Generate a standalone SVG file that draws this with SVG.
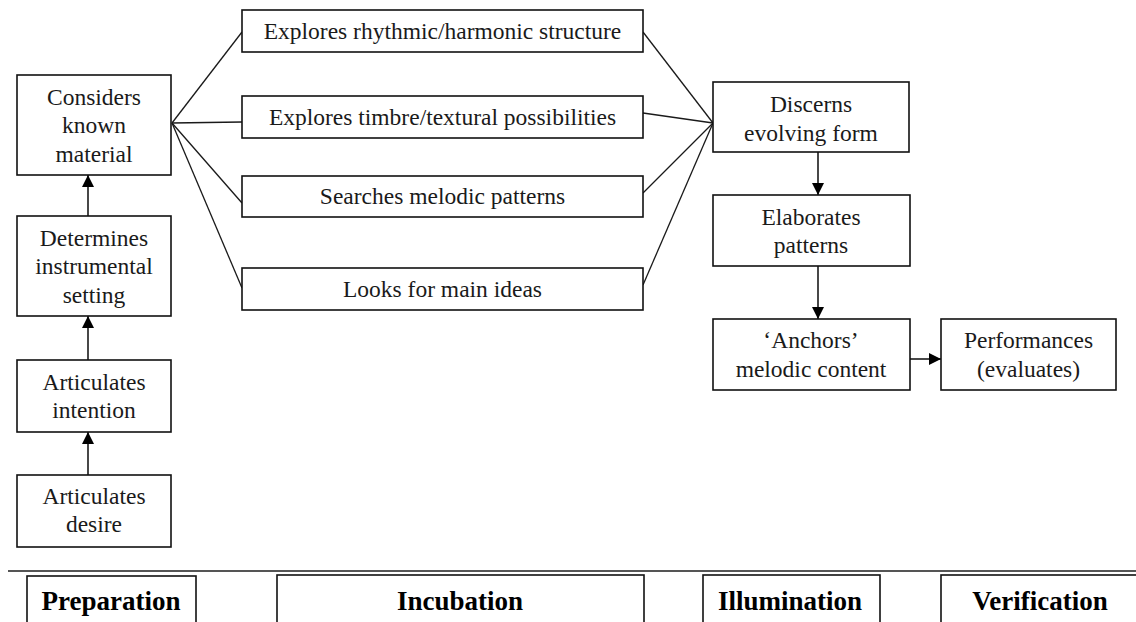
<svg xmlns="http://www.w3.org/2000/svg" width="1136" height="622" viewBox="0 0 1136 622">
  <style>
    .box { fill: #fff; stroke: #111; stroke-width: 1.6; }
    .lbl { font-family: "Liberation Serif", "Times New Roman", serif; font-size: 23.5px; fill: #1a1a1a; text-anchor: middle; }
    .phase { font-family: "Liberation Serif", "Times New Roman", serif; font-size: 27px; font-weight: bold; fill: #000; text-anchor: middle; }
    .link { stroke: #1a1a1a; stroke-width: 1.3; fill: none; }
    .arrow { stroke: #1a1a1a; stroke-width: 1.6; fill: none; marker-end: url(#head); }
  </style>
  <defs>
    <marker id="head" viewBox="0 0 12 12" refX="12" refY="6" markerWidth="12" markerHeight="12" markerUnits="userSpaceOnUse" orient="auto">
      <path d="M0,0 L12,6 L0,12 Z" fill="#000"/>
    </marker>
  </defs>
  <rect width="1136" height="622" fill="#fff"/>

  <!-- connectors -->
  <g id="connectors">
    <!-- fan-out from known material to the four exploration boxes -->
    <line class="link" x1="172" y1="123" x2="242" y2="32"/>
    <line class="link" x1="172" y1="123" x2="242" y2="122"/>
    <line class="link" x1="172" y1="123" x2="242" y2="203"/>
    <line class="link" x1="172" y1="123" x2="242" y2="288"/>
    <!-- fan-in to evolving form -->
    <line class="link" x1="643" y1="32" x2="713" y2="123"/>
    <line class="link" x1="643" y1="113" x2="713" y2="123"/>
    <line class="link" x1="643" y1="193" x2="713" y2="123"/>
    <line class="link" x1="643" y1="285" x2="713" y2="123"/>
    <!-- upward chain in the preparation column -->
    <line class="arrow" x1="88" y1="216" x2="88" y2="175"/>
    <line class="arrow" x1="88" y1="360" x2="88" y2="316"/>
    <line class="arrow" x1="88" y1="475" x2="88" y2="432"/>
    <!-- downward chain in the illumination column -->
    <line class="arrow" x1="818" y1="152" x2="818" y2="195"/>
    <line class="arrow" x1="818" y1="266" x2="818" y2="319"/>
    <line class="arrow" x1="910" y1="359" x2="941" y2="359"/>
  </g>

  <!-- preparation column -->
  <g id="considers">
    <rect class="box" x="17" y="75" width="154" height="100"/>
    <text class="lbl" x="94" y="105">Considers</text>
    <text class="lbl" x="94" y="133">known</text>
    <text class="lbl" x="94" y="162">material</text>
  </g>
  <g id="determines">
    <rect class="box" x="17" y="216" width="154" height="100"/>
    <text class="lbl" x="94" y="246">Determines</text>
    <text class="lbl" x="94" y="274">instrumental</text>
    <text class="lbl" x="94" y="303">setting</text>
  </g>
  <g id="intention">
    <rect class="box" x="17" y="360" width="154" height="72"/>
    <text class="lbl" x="94" y="390">Articulates</text>
    <text class="lbl" x="94" y="418">intention</text>
  </g>
  <g id="desire">
    <rect class="box" x="17" y="475" width="154" height="72"/>
    <text class="lbl" x="94" y="504">Articulates</text>
    <text class="lbl" x="94" y="532">desire</text>
  </g>

  <!-- incubation column -->
  <g id="rhythmic">
    <rect class="box" x="242" y="10" width="401" height="42"/>
    <text class="lbl" x="442.5" y="39">Explores rhythmic/harmonic structure</text>
  </g>
  <g id="timbre">
    <rect class="box" x="242" y="96" width="401" height="42"/>
    <text class="lbl" x="442.5" y="125">Explores timbre/textural possibilities</text>
  </g>
  <g id="melodic">
    <rect class="box" x="242" y="176" width="401" height="41"/>
    <text class="lbl" x="442.5" y="204">Searches melodic patterns</text>
  </g>
  <g id="ideas">
    <rect class="box" x="242" y="268" width="401" height="42"/>
    <text class="lbl" x="442.5" y="297">Looks for main ideas</text>
  </g>

  <!-- illumination / verification -->
  <g id="discerns">
    <rect class="box" x="713" y="82" width="196" height="70"/>
    <text class="lbl" x="811" y="112">Discerns</text>
    <text class="lbl" x="811" y="141">evolving form</text>
  </g>
  <g id="elaborates">
    <rect class="box" x="713" y="195" width="197" height="71"/>
    <text class="lbl" x="811" y="225">Elaborates</text>
    <text class="lbl" x="811" y="253">patterns</text>
  </g>
  <g id="anchors">
    <rect class="box" x="713" y="319" width="197" height="71"/>
    <text class="lbl" x="811" y="348">‘Anchors’</text>
    <text class="lbl" x="811" y="377">melodic content</text>
  </g>
  <g id="performances">
    <rect class="box" x="941" y="319" width="175" height="71"/>
    <text class="lbl" x="1028.5" y="348">Performances</text>
    <text class="lbl" x="1028.5" y="377">(evaluates)</text>
  </g>

  <!-- phase strip -->
  <g id="phases">
    <line x1="8" y1="571" x2="1136" y2="571" stroke="#555" stroke-width="2"/>
    <g id="preparation">
      <rect class="box" x="27" y="576" width="169" height="60"/>
      <text class="phase" x="111" y="610">Preparation</text>
    </g>
    <g id="incubation">
      <rect class="box" x="277" y="575" width="367" height="60"/>
      <text class="phase" x="460" y="610">Incubation</text>
    </g>
    <g id="illumination">
      <rect class="box" x="703" y="575" width="177" height="60"/>
      <text class="phase" x="790" y="610">Illumination</text>
    </g>
    <g id="verification">
      <rect class="box" x="941" y="575" width="200" height="60"/>
      <text class="phase" x="1040" y="610">Verification</text>
    </g>
  </g>
</svg>
